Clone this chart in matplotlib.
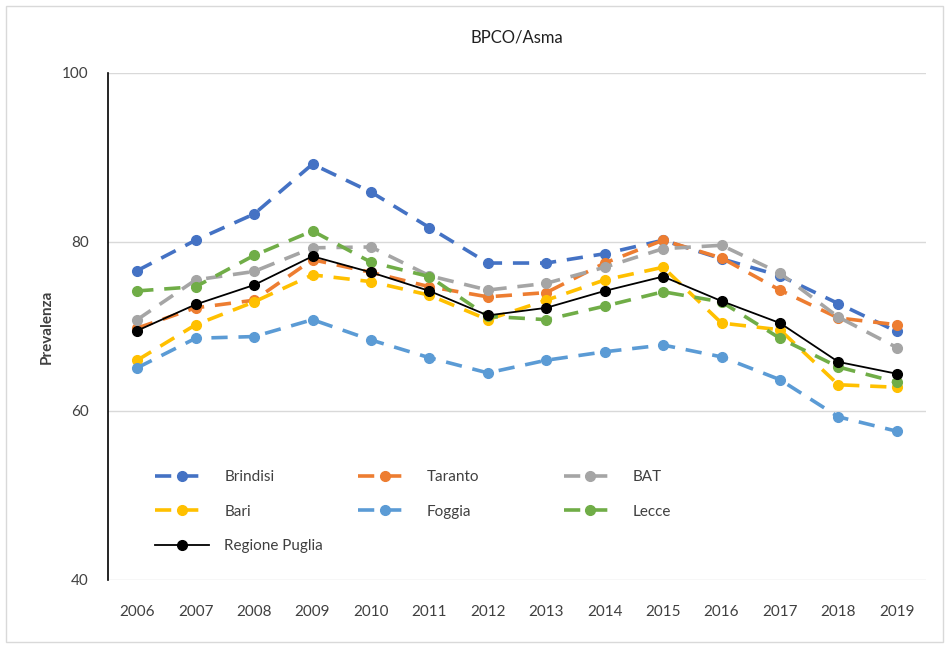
import matplotlib
matplotlib.use("Agg")
import matplotlib.pyplot as plt
from matplotlib.patches import Rectangle

years = [2006, 2007, 2008, 2009, 2010, 2011, 2012, 2013, 2014, 2015, 2016, 2017, 2018, 2019]
brindisi = [76.6, 80.2, 83.3, 89.2, 85.9, 81.7, 77.5, 77.5, 78.6, 80.2, 78.0, 76.0, 72.7, 69.4]
taranto = [69.8, 72.2, 73.1, 77.9, 76.4, 74.7, 73.5, 74.0, 77.5, 80.2, 78.1, 74.3, 71.0, 70.2]
bat = [70.8, 75.5, 76.5, 79.3, 79.4, 76.0, 74.3, 75.1, 77.0, 79.2, 79.6, 76.3, 71.1, 67.5]
bari = [66.0, 70.2, 72.9, 76.1, 75.3, 73.7, 70.8, 73.1, 75.5, 77.0, 70.4, 69.6, 63.1, 62.8]
foggia = [65.1, 68.6, 68.8, 70.8, 68.4, 66.3, 64.5, 66.0, 67.0, 67.8, 66.4, 63.7, 59.3, 57.6]
lecce = [74.2, 74.7, 78.4, 81.3, 77.6, 75.9, 71.2, 70.8, 72.4, 74.1, 72.9, 68.6, 65.2, 63.4]
puglia = [69.5, 72.6, 74.9, 78.3, 76.4, 74.2, 71.3, 72.2, 74.2, 75.9, 73.0, 70.4, 65.8, 64.4]

series = [
    ("Brindisi", brindisi, "#4472C4"),
    ("Taranto", taranto, "#ED7D31"),
    ("BAT", bat, "#A5A5A5"),
    ("Bari", bari, "#FFC000"),
    ("Foggia", foggia, "#5B9BD5"),
    ("Lecce", lecce, "#70AD47"),
]

plt.rcParams['font.family'] = ['Lato', 'DejaVu Sans']

fig = plt.figure(figsize=(9.49, 6.46), dpi=100)
ax = fig.add_axes([0.1138, 0.1022, 0.862, 0.785])

handles = {}
for name, vals, col in series:
    h, = ax.plot(years, vals, color=col, lw=2.6, dashes=(4.5, 3), marker='o',
                 markersize=7, markerfacecolor=col, markeredgecolor=col, label=name, zorder=2)
    handles[name] = h
h, = ax.plot(years, puglia, color='black', lw=1.3, marker='o', markersize=7,
             label='Regione Puglia', zorder=3)
handles['Regione Puglia'] = h

ax.set_xlim(2005.5, 2019.5)
ax.set_ylim(40, 100)
ax.set_yticks([40, 60, 80, 100])
ax.set_xticks(years)
ax.set_xticklabels([str(y) for y in years])
ax.grid(axis='y', color='#D9D9D9', lw=1)
ax.set_axisbelow(True)
for s in ['top', 'right', 'bottom']:
    ax.spines[s].set_visible(False)
ax.spines['left'].set_color('black')
ax.spines['left'].set_linewidth(1.2)
ax.tick_params(axis='both', length=0, labelsize=11, colors='#404040')
ax.tick_params(axis='x', pad=18)
ax.tick_params(axis='y', pad=14)
ax.set_ylabel('Prevalenza', fontsize=11, fontweight='bold', color='#404040', labelpad=6)
ax.set_title('BPCO/Asma', fontsize=12, color='#202020', pad=22)

columns = [['Brindisi', 'Bari', 'Regione Puglia'], ['Taranto', 'Foggia'], ['BAT', 'Lecce']]
col_x = [0.058, 0.306, 0.557]
for i, (names, x0) in enumerate(zip(columns, col_x)):
    leg = ax.legend([handles[n] for n in names], names, loc='upper left',
                    bbox_to_anchor=(x0, 0.217), frameon=False, fontsize=11,
                    handlelength=3.5, labelspacing=1.36, borderpad=0, borderaxespad=0,
                    handletextpad=1.0, labelcolor='#404040')
    if i < len(columns) - 1:
        ax.add_artist(leg)

fig.patches.append(Rectangle((0.006, 0.006), 0.988, 0.985, transform=fig.transFigure,
                             fill=False, edgecolor='#D9D9D9', lw=1))

fig.savefig('out.png', dpi=100)
